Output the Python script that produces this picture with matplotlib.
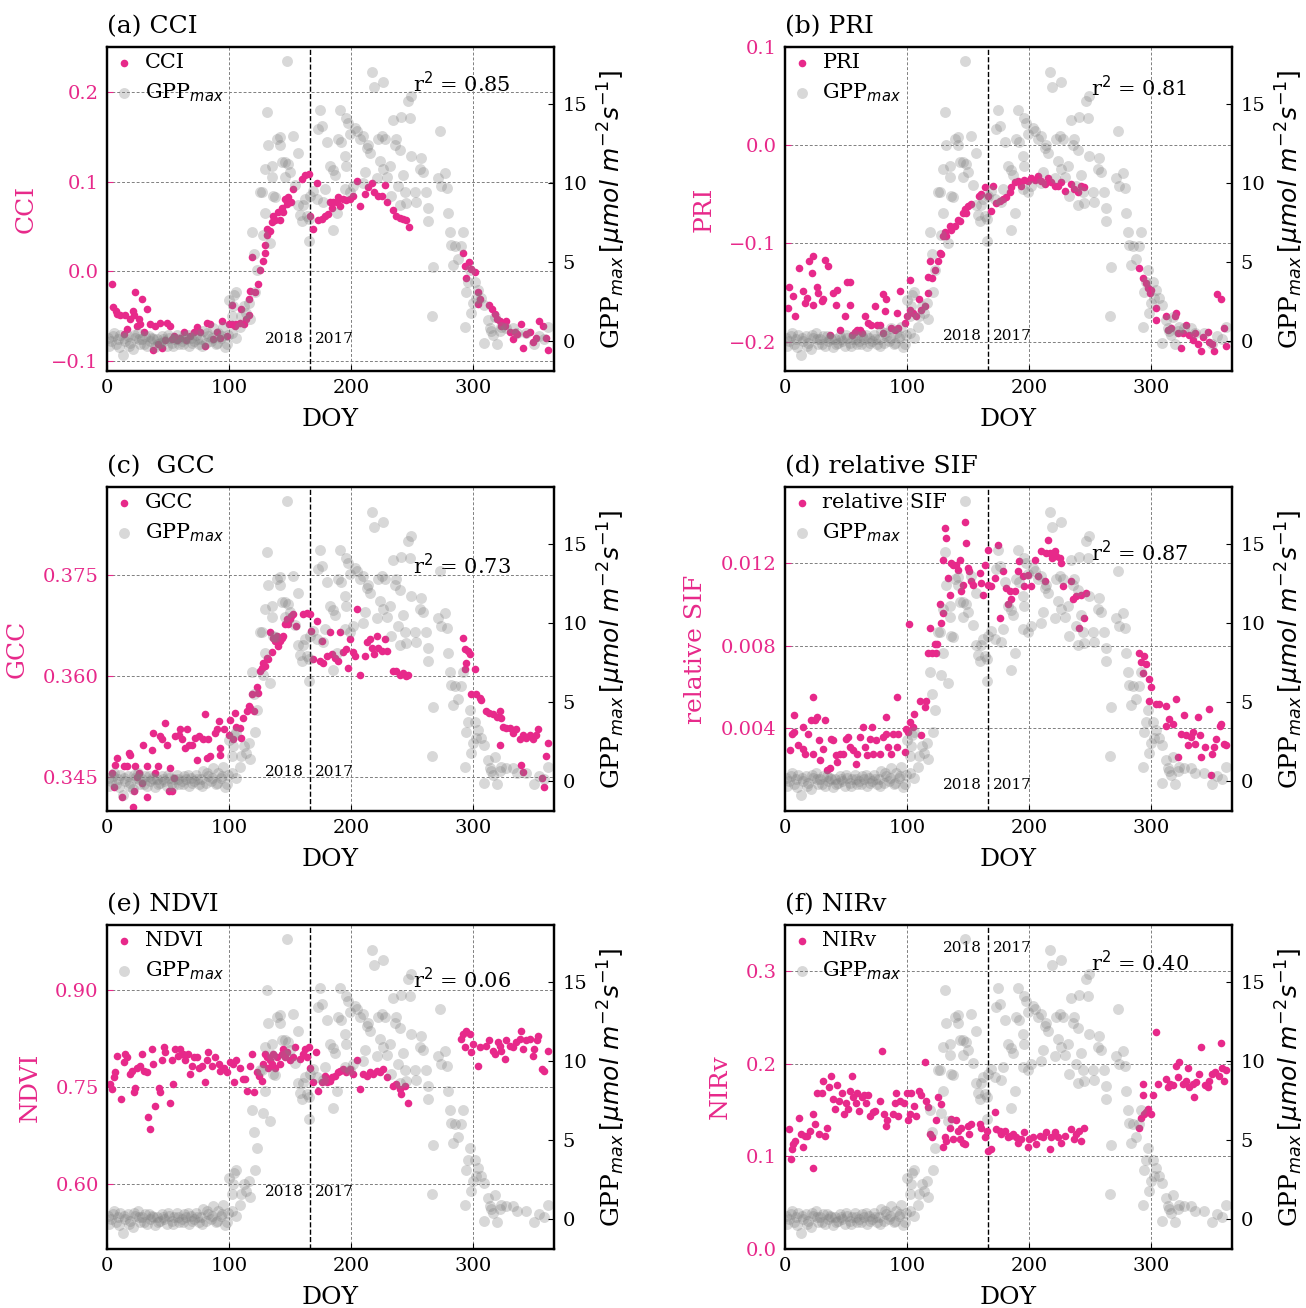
import matplotlib
matplotlib.use("Agg")
import matplotlib.pyplot as plt
import matplotlib.transforms as mtransforms
from matplotlib.ticker import FuncFormatter

plt.rcParams['font.family'] = 'DejaVu Serif'

MAG = '#e7298a'

# GPPmax (same in every panel)
doy_gpp = [1, 2, 3, 5, 6, 7, 9, 10, 11, 13, 14, 15, 17, 18, 19, 21, 22, 23, 25, 26,
           27, 29, 30, 31, 33, 34, 35, 37, 38, 39, 41, 42, 43, 45, 46, 47, 49, 50, 51, 53,
           54, 55, 57, 58, 59, 61, 62, 63, 65, 66, 67, 69, 70, 71, 73, 74, 75, 77, 78, 79,
           81, 82, 83, 85, 86, 87, 89, 90, 91, 93, 94, 95, 97, 98, 99,
           99.5, 102, 102, 103.5, 104, 106, 106, 109, 110, 112, 114, 116, 117, 118.5, 120,
           121, 122.6, 125, 126.7, 127.5, 129, 129.4, 131, 132, 133.5, 135, 135.5, 136, 137.6,
           139, 141.7, 142, 143, 145.8, 147, 146, 148.5, 150, 152.6, 154, 156.7, 156.7, 158,
           159.4, 160.8, 162, 163.5, 165, 165.7, 166, 169, 171.7, 173, 174.4, 175.7, 177, 180,
           178.5, 182.6, 185, 185, 186.6, 188, 189.4, 190.7, 192, 194.8, 194.8, 196, 196, 197.5,
           199, 199, 201.6, 203, 204.4, 207, 209.8, 209.8, 211, 212.5, 214, 215, 216.6, 219,
           221, 222, 223.4, 224.8, 226, 226, 227.5, 229, 231.6, 232.9, 234, 235.7, 237, 238.4,
           239.8, 239.8, 241, 242.5, 244, 245, 246.6, 248, 249.3, 249.3, 252, 253.4, 256, 257.5,
           259, 261.6, 263, 263, 266, 267, 271, 272.5, 273.8, 276.6, 278, 279, 281, 282,
           283.5, 285, 287.5, 290, 291.6, 293, 294, 295.6, 297, 298.4, 299.7, 301, 302.5, 303.8,
           306.5, 309, 309, 312, 313.4, 314.7, 316, 317.4, 319, 321.5, 323, 327, 332.4, 336,
           343, 350, 354, 358, 361]
gpp = [0.2, -0.3, 0.0, 0.3, 0.5, -0.2, 0.1, -0.4, 0.4, -0.9, 0.2, 0.0, 0.3, -0.3, -0.1, -0.5, 0.4, 0.2, 0.5, 0.1,
       -0.2, 0.1, -0.2, 0.3, -0.3, 0.3, 0.0, 0.2, 0.1, -0.4, 0.1, -0.2, -0.1, 0.3, 0.1, 0.0, -0.3, 0.4, 0.2, -0.1,
       -0.3, 0.1, 0.4, 0.1, -0.2, 0.0, -0.2, 0.3, 0.1, 0.4, -0.3, 0.2, -0.1, 0.0, 0.4, 0.1, -0.2, 0.1, -0.3, 0.6,
       -0.1, 0.5, 0.3, 0.0, 0.2, 0.8, -0.2, -0.1, 0.5, 0.2, 0.3, 0.9, -0.4, -0.2, 0.4,
       2.6, 1.6, 0.5, 2.2, 2.9, 3.1, 0.2, 0.9, 1.6, 2.2, 1.8, 2.4, 1.4, 6.9, 5.5,
       3.1, 4.5, 9.4, 9.4, 6.7, 8.1, 10.9, 14.5, 12.4, 6.2, 11.1, 10.4, 9.2, 9.1,
       12.8, 12.9, 12.4, 11.3, 11.3, 17.7, 10.4, 11.2, 10.7, 13.0, 9.9, 11.9, 8.6, 8.0,
       7.6, 8.6, 9.0, 7.9, 7.7, 6.3, 9.2, 9.5, 9.0, 13.4, 14.6, 13.6, 8.8, 12.6,
       9.6, 11.1, 7.0, 10.8, 10.5, 8.1, 12.8, 14.6, 12.6, 11.7, 9.6, 14.1, 11.1, 13.8,
       13.1, 9.4, 9.8, 13.5, 13.3, 12.8, 13.0, 10.0, 10.7, 12.2, 12.4, 11.9, 17.0, 16.1,
       10.3, 12.8, 11.4, 13.0, 16.4, 10.9, 12.8, 10.4, 11.1, 9.2, 14.0, 12.4, 12.8, 9.8,
       12.1, 8.6, 14.2, 10.5, 9.4, 8.7, 15.2, 14.1, 15.5, 11.7, 9.4, 8.8, 10.9, 11.6,
       10.7, 9.4, 8.4, 7.6, 1.6, 4.7, 10.3, 13.3, 9.8, 10.6, 9.7, 8.1, 6.9, 6.1,
       4.8, 6.0, 5.2, 6.0, 6.9, 0.9, 3.1, 3.7, 4.5, 1.8, 2.4, 3.7, 2.7, 3.2,
       2.7, 2.3, -0.1, 1.3, 0.8, 0.6, 0.4, 1.5, -0.2, 0.6, 0.9, 0.8, 0.8, 0.5,
       0.5, -0.2, 0.3, 0.1, 0.9]

# (a) CCI
doy_cci = [4, 5, 7, 8, 11, 13.6, 15, 16.3, 19, 21, 22, 23, 24.5, 26, 27, 28.6, 30, 32.7, 35, 38,
           39.5, 42, 43.6, 45, 47.7, 49, 51.8, 53, 54.5, 57, 60, 62.7, 65, 68, 71, 73.6, 76, 80, 82, 84.5,
           87, 90, 92.6, 94, 98, 99.5, 102, 102, 105, 106, 109, 110, 112, 114, 116, 116, 117, 119, 121, 124,
           125, 128, 129, 129.4, 131, 131, 133.5, 135, 136, 137.6, 140, 141.7, 143, 144, 145.8, 147, 148.5, 151, 152.6, 159.4,
           162, 165, 166, 169, 171.7, 173, 175.7, 178.5, 181, 182.6, 184, 185, 188, 189.4, 190.7, 193.5, 196, 199, 201.6, 204.4,
           207, 211, 214, 216.6, 219, 222, 224.8, 227.5, 229, 234, 237, 240, 242.5, 245, 247.4,
           291.6, 293, 296, 294, 298.4, 301, 304, 305.6, 304, 313, 315, 317.4, 319, 321.5, 323, 326, 327, 330, 332.4, 334,
           336, 339, 340.6, 343, 346, 349, 351.5, 354, 357, 359.5, 361]
cci = [-0.014, -0.040, -0.044, -0.048, -0.049, -0.070, -0.049, -0.064, -0.053, -0.044, -0.049, -0.023, -0.061, -0.053, -0.059, -0.031, -0.068, -0.042, -0.059, -0.088,
       -0.061, -0.081, -0.057, -0.085, -0.077, -0.057, -0.061, -0.075, -0.072, -0.077, -0.074, -0.068, -0.077, -0.072, -0.068, -0.062, -0.068, -0.083, -0.057, -0.059,
       -0.075, -0.068, -0.074, -0.055, -0.072, -0.059, -0.038, -0.059, -0.061, -0.059, -0.057, -0.042, -0.059, -0.053, -0.049, -0.031, -0.022, 0.016, -0.023, -0.014,
       0.001, 0.012, 0.021, 0.029, 0.040, 0.047, 0.045, 0.055, 0.062, 0.057, 0.066, 0.057, 0.071, 0.066, 0.081, 0.075, 0.083, 0.077, 0.092, 0.103,
       0.107, 0.109, 0.062, 0.047, 0.099, 0.057, 0.058, 0.062, 0.064, 0.077, 0.071, 0.077, 0.077, 0.083, 0.073, 0.081, 0.079, 0.081, 0.084, 0.101,
       0.073, 0.086, 0.094, 0.099, 0.088, 0.084, 0.084, 0.096, 0.077, 0.068, 0.062, 0.060, 0.058, 0.057, 0.049,
       0.021, 0.006, 0.010, -0.007, 0.003, -0.001, -0.023, -0.031, -0.036, -0.038, -0.042, -0.048, -0.053, -0.055, -0.061, -0.061, -0.055, -0.068, -0.075, -0.068,
       -0.070, -0.059, -0.085, -0.070, -0.068, -0.079, -0.074, -0.055, -0.061, -0.074, -0.088]

# (b) PRI
doy_pri = [3.5, 2.7, 6.8, 8, 11.7, 14.4, 16.3, 17.7, 19.9, 21.8, 23, 22.6, 25.9, 27.2, 30, 31.3, 32.7, 35.4, 36.8, 39,
           41.7, 42.8, 45, 49, 50.4, 53, 53, 54.5, 57.2, 58.6, 61.3, 62.7, 65.4, 68, 70.8, 73.6, 75, 77.7, 80.4, 83,
           81.7, 80.4, 87, 90, 91.3, 92.6, 94, 98, 99.5, 102, 102, 105, 107.6, 110, 111.7, 114.4, 117, 117, 120, 118.5,
           122.6, 125.3, 126.7, 128, 129.4, 131, 132, 134.9, 136, 139, 141.7, 143, 145.8, 147, 148.5, 150, 152.6, 159, 160.8, 163.5,
           166, 169, 170, 173, 175.7, 178.5, 181, 184, 185, 188, 190.7, 193.5, 196, 199, 201.6, 204.4, 207, 210, 212.5, 215,
           218, 220.7, 223.4, 226, 228.9, 234.3, 237, 239.8, 242.5, 245,
           290, 293, 295.6, 297, 298.8, 300, 304, 304, 312, 313.5, 316, 319, 320, 321.5, 324, 326, 328.5, 331, 334, 336,
           338, 340.6, 342, 346, 347.4, 350, 351.5, 354, 357, 359.7, 361]
pri = [-0.144, -0.166, -0.154, -0.174, -0.125, -0.149, -0.161, -0.156, -0.118, -0.130, -0.113, -0.163, -0.144, -0.151, -0.159, -0.157, -0.117, -0.123, -0.193, -0.151,
       -0.163, -0.147, -0.188, -0.174, -0.139, -0.139, -0.163, -0.193, -0.190, -0.188, -0.188, -0.191, -0.174, -0.181, -0.183, -0.164, -0.183, -0.183, -0.152, -0.157,
       -0.169, -0.191, -0.186, -0.188, -0.171, -0.186, -0.149, -0.181, -0.174, -0.137, -0.168, -0.171, -0.174, -0.157, -0.168, -0.164, -0.151, -0.134, -0.135, -0.118,
       -0.127, -0.118, -0.110, -0.111, -0.093, -0.088, -0.093, -0.082, -0.086, -0.082, -0.076, -0.077, -0.069, -0.065, -0.069, -0.062, -0.060, -0.052, -0.050, -0.043,
       -0.052, -0.067, -0.042, -0.059, -0.057, -0.055, -0.053, -0.048, -0.043, -0.038, -0.036, -0.042, -0.035, -0.036, -0.033, -0.035, -0.031, -0.036, -0.040, -0.033,
       -0.038, -0.042, -0.042, -0.038, -0.047, -0.040, -0.045, -0.048, -0.042, -0.043,
       -0.125, -0.135, -0.140, -0.145, -0.151, -0.147, -0.166, -0.178, -0.174, -0.188, -0.186, -0.174, -0.171, -0.191, -0.207, -0.191, -0.183, -0.193, -0.198, -0.191,
       -0.202, -0.210, -0.195, -0.190, -0.200, -0.203, -0.210, -0.152, -0.157, -0.186, -0.205]

# (c) GCC
doy_gcc = [4, 5.7, 6.8, 8, 12, 13.6, 16.3, 17.7, 19, 21, 22, 23, 24.5, 26, 28.6, 29.4, 32.7, 32.7, 36.8, 38,
           39.5, 42, 43.6, 45, 47.7, 49, 50.4, 51.8, 53, 54.5, 56, 58.6, 60, 61.3, 64, 65.4, 67, 69.5, 72, 73.6,
           75, 79, 80.4, 81.7, 83, 84.5, 88.5, 90, 91.3, 92.6, 92.6, 95.4, 99.5, 100.8, 103.5, 105, 106, 109, 110, 111.7,
           114.4, 116, 117, 118.5, 120, 122.6, 124, 125.3, 126.7, 128, 129.4, 131, 132, 133.5, 135, 136, 137.6, 139, 140, 141.7,
           143, 144.4, 146, 147, 148.5, 150, 151, 152.6, 155, 160.8, 163.5, 166, 166.8, 169, 171.7, 174.4, 175.7, 177, 180, 182.6,
           184, 186.6, 189.4, 190.7, 193.5, 196, 197.5, 199, 201.6, 203, 204.4, 207, 211, 212.5, 215, 216.6, 219, 220.7, 222, 224.8,
           227.5, 229, 234.3, 237, 240, 242.5, 245, 246.6,
           291.6, 293, 294.3, 295.6, 297, 293, 301, 298.4, 302.5, 305, 306.5, 310.6, 313, 316, 319, 321.5, 323, 324, 327, 330,
           332.4, 335, 338, 340.6, 343, 346, 348.7, 351.5, 352.9, 321.5, 339, 340.6, 356, 357.5, 359.7, 361]
gcc = [0.3456, 0.3436, 0.3468, 0.3478, 0.3421, 0.3466, 0.3466, 0.3486, 0.3483, 0.3406, 0.3429, 0.3466, 0.3451, 0.3456, 0.3441, 0.3498, 0.3421, 0.3466, 0.3491, 0.3516,
       0.3456, 0.3466, 0.3511, 0.3506, 0.3531, 0.3498, 0.3429, 0.3463, 0.3429, 0.3449, 0.3511, 0.3513, 0.3521, 0.3506, 0.3493, 0.3521, 0.3498, 0.3498, 0.3508, 0.3476,
       0.3511, 0.3506, 0.3543, 0.3478, 0.3506, 0.3481, 0.3516, 0.3521, 0.3533, 0.3493, 0.3483, 0.3521, 0.3513, 0.3535, 0.3506, 0.3545, 0.3525, 0.3523, 0.3508, 0.3538,
       0.3548, 0.3555, 0.3553, 0.3573, 0.3548, 0.3583, 0.3575, 0.3607, 0.3612, 0.3620, 0.3615, 0.3627, 0.3625, 0.3665, 0.3635, 0.3657, 0.3652, 0.3660, 0.3645, 0.3652,
       0.3657, 0.3660, 0.3677, 0.3684, 0.3677, 0.3684, 0.3689, 0.3692, 0.3674, 0.3692, 0.3694, 0.3692, 0.3667, 0.3625, 0.3682, 0.3622, 0.3652, 0.3620, 0.3630, 0.3665,
       0.3632, 0.3627, 0.3622, 0.3665, 0.3635, 0.3640, 0.3612, 0.3655, 0.3635, 0.3630, 0.3699, 0.3602, 0.3630, 0.3650, 0.3655, 0.3642, 0.3632, 0.3660, 0.3642, 0.3637,
       0.3655, 0.3637, 0.3607, 0.3607, 0.3602, 0.3605, 0.3600, 0.3602,
       0.3657, 0.3640, 0.3620, 0.3637, 0.3632, 0.3610, 0.3610, 0.3573, 0.3573, 0.3568, 0.3565, 0.3548, 0.3545, 0.3543, 0.3540, 0.3548, 0.3538, 0.3525, 0.3523, 0.3523,
       0.3516, 0.3521, 0.3506, 0.3513, 0.3508, 0.3513, 0.3506, 0.3513, 0.3521, 0.3498, 0.3468, 0.3458, 0.3449, 0.3436, 0.3481, 0.3501]

# (d) relative SIF
doy_sif = [4, 5.4, 7, 7.4, 11, 14.4, 15, 16.3, 19, 21, 23, 22.6, 24.5, 26.4, 28, 29, 30.8, 32.7, 34, 36.8,
           37.3, 39.5, 41.7, 42.8, 45, 47.7, 49.9, 51.8, 53, 55.9, 58, 59.2, 61.3, 63.5, 65.4, 67.3, 69.5, 71, 72.2, 74.4,
           77.7, 80.4, 83, 83, 84.5, 87, 88.6, 91.3, 91.3, 92.6, 98, 99, 101, 101.6, 102.7, 105, 106, 110.4, 111.7, 114.4,
           115.8, 117, 118.5, 120, 122.6, 124, 124.6, 126.7, 128, 129.4, 129.4, 131, 132, 133.5, 135, 136, 137.6, 140, 141.7, 143,
           144.4, 146, 147, 148.5, 150, 151, 152.6, 154, 159.4, 160.8, 162, 163.5, 166, 166, 169, 171.7, 174.4, 175.7, 178.5, 181,
           184, 182.6, 185, 188, 190.7, 192, 195, 196, 199, 201.6, 204.4, 207, 210, 212.5, 214, 215.3, 216.6, 219, 220.7, 222,
           224.8, 226, 227.5, 234.3, 235.7, 238.4, 241, 242.5, 245, 246.6,
           290, 291.6, 293, 294.3, 295.6, 298.4, 299.7, 298.4, 304, 306.5, 312, 312, 314.6, 317.4, 320, 321.5, 324, 327, 328.5, 330,
           332.4, 334, 336, 338, 339.6, 341, 343.6, 347.4, 349, 350, 351.5, 353, 356, 357, 359.7, 361]
sif = [0.00294, 0.00374, 0.00463, 0.00382, 0.00318, 0.00406, 0.00302, 0.00278, 0.00374, 0.00439, 0.00551, 0.00278, 0.00439, 0.00455, 0.00342, 0.00246, 0.00302, 0.00439, 0.00198, 0.00206,
       0.00350, 0.00342, 0.00270, 0.00238, 0.00278, 0.00278, 0.00350, 0.00358, 0.00310, 0.00294, 0.00230, 0.00278, 0.00358, 0.00406, 0.00310, 0.00270, 0.00350, 0.00406, 0.00278, 0.00342,
       0.00278, 0.00358, 0.00455, 0.00374, 0.00310, 0.00278, 0.00374, 0.00310, 0.00551, 0.00374, 0.00286, 0.00398, 0.00382, 0.00904, 0.00431, 0.00406, 0.00471, 0.00535, 0.00366, 0.00503,
       0.00535, 0.00768, 0.00888, 0.00768, 0.00808, 0.00768, 0.00808, 0.01001, 0.00912, 0.00961, 0.01218, 0.01370, 0.01322, 0.01129, 0.01049, 0.01202, 0.01194, 0.01194, 0.01169, 0.01218,
       0.01065, 0.01097, 0.01402, 0.01298, 0.01177, 0.01161, 0.01113, 0.01097, 0.01153, 0.01105, 0.01049, 0.01194, 0.01266, 0.01097, 0.01089, 0.01129, 0.01290, 0.00937, 0.01161, 0.01081,
       0.01065, 0.01001, 0.01025, 0.01065, 0.01161, 0.01210, 0.01137, 0.01089, 0.01145, 0.01089, 0.01218, 0.01137, 0.01258, 0.01113, 0.01250, 0.01314, 0.01250, 0.01226, 0.01258, 0.01234,
       0.01226, 0.01202, 0.01089, 0.01113, 0.01025, 0.01041, 0.00888, 0.01049, 0.00937, 0.01057,
       0.00768, 0.00720, 0.00671, 0.00752, 0.00712, 0.00639, 0.00599, 0.00535, 0.00519, 0.00519, 0.00511, 0.00414, 0.00447, 0.00422, 0.00543, 0.00262, 0.00374, 0.00463, 0.00366, 0.00318,
       0.00358, 0.00382, 0.00326, 0.00455, 0.00366, 0.00262, 0.00310, 0.00495, 0.00174, 0.00278, 0.00310, 0.00350, 0.00414, 0.00422, 0.00326, 0.00318]

# (e) NDVI
doy_ndvi = [2.7, 4, 6, 6.8, 8, 11.4, 13.6, 15, 16.3, 18.5, 20.4, 21.8, 23, 24.5, 26.7, 28.6, 30, 32.7, 33.2, 34.9,
            36.8, 38, 39.5, 42.2, 43, 45, 46.3, 47.7, 51.2, 53, 54, 55.9, 57.8, 60, 62, 64, 66, 67.6, 69.5, 71.4,
            73.6, 75, 77.7, 80.4, 81.7, 83, 85.8, 88.5, 91.3, 92.6, 95.4, 98, 100.8, 103, 104, 106, 109, 111, 113, 114.4,
            117, 118.5, 120, 122.6, 124.8, 126.7, 128, 129.4, 131, 132, 133.5, 135, 136, 137.6, 139, 141.7, 143, 144.4, 146, 147,
            150, 152.6, 154, 158, 160.8, 162, 163.5, 165, 166, 169, 171, 173, 175.7, 178.5, 180, 182.6, 184, 186.6, 189.4, 190.7,
            193.5, 196, 199, 201.6, 204.4, 207, 209.8, 212.5, 215, 218, 220.7, 223.4, 226, 229, 234.3, 237, 240, 241, 244, 246.6,
            290, 291.6, 294.3, 293, 297, 298.4, 299.7, 304, 305, 310.6, 313, 316, 317.4, 320, 321.5, 323, 326, 327, 330, 332.4,
            335, 338, 339, 340.6, 343, 346, 349, 350, 352, 353, 356, 357.5, 361]
ndvi = [0.755, 0.747, 0.765, 0.773, 0.798, 0.731, 0.788, 0.801, 0.796, 0.770, 0.775, 0.742, 0.749, 0.780, 0.783, 0.801, 0.775, 0.773, 0.703, 0.685,
        0.809, 0.786, 0.721, 0.749, 0.742, 0.791, 0.811, 0.804, 0.726, 0.791, 0.755, 0.809, 0.798, 0.809, 0.801, 0.791, 0.801, 0.770, 0.783, 0.796,
        0.796, 0.780, 0.783, 0.757, 0.791, 0.804, 0.783, 0.796, 0.786, 0.775, 0.780, 0.773, 0.788, 0.786, 0.757, 0.791, 0.780, 0.762, 0.762, 0.744,
        0.783, 0.801, 0.742, 0.773, 0.767, 0.760, 0.786, 0.801, 0.796, 0.780, 0.791, 0.786, 0.801, 0.780, 0.796, 0.786, 0.801, 0.809, 0.796, 0.804,
        0.791, 0.796, 0.811, 0.793, 0.801, 0.809, 0.796, 0.811, 0.780, 0.757, 0.804, 0.744, 0.757, 0.767, 0.757, 0.760, 0.765, 0.767, 0.773, 0.775,
        0.778, 0.773, 0.778, 0.770, 0.791, 0.747, 0.770, 0.767, 0.773, 0.770, 0.775, 0.773, 0.778, 0.765, 0.752, 0.755, 0.747, 0.739, 0.752, 0.726,
        0.824, 0.832, 0.837, 0.811, 0.832, 0.804, 0.817, 0.783, 0.811, 0.814, 0.822, 0.806, 0.801, 0.819, 0.814, 0.806, 0.793, 0.822, 0.814, 0.811,
        0.819, 0.824, 0.837, 0.809, 0.822, 0.824, 0.798, 0.809, 0.822, 0.829, 0.778, 0.775, 0.806]

# (f) NIRv
doy_nirv = [3.5, 4.6, 5.4, 6.8, 8, 11.7, 12.8, 15, 16.3, 18.3, 20.4, 22.6, 23, 24.5, 26.4, 28, 30, 31.3, 32.7, 34.6,
            36, 37.3, 39, 41, 42.8, 44.4, 46.3, 48.2, 49.9, 51.8, 53, 54.5, 55.9, 58, 59, 60.8, 62.7, 64.6, 66.2, 68,
            70, 72.2, 73.6, 77.7, 79.8, 81, 82.6, 83.7, 88.6, 90, 90.7, 92.6, 94.5, 97.3, 99.5, 100.8, 102.2, 103.5, 105.4, 107.6,
            109.8, 111.7, 114.4, 115.8, 117, 118.5, 120, 124, 125.3, 128, 129.4, 131, 132, 135, 136, 137.6, 140, 141.7, 143, 144.4,
            146, 147, 150, 151, 152.6, 159.4, 160.8, 163.5, 165, 166, 169, 171.7, 173, 175.7, 177, 180, 182.6, 184, 186.6, 189.4,
            190.7, 193.5, 196, 199, 200, 203, 205.7, 208.4, 211, 214, 216.6, 218, 220.7, 223.4, 226, 229, 234.3, 237, 238.4, 241,
            242.5, 245,
            290, 291.6, 293, 293, 294.3, 295.6, 297, 300, 301, 304, 305, 312, 313.5, 315, 317.6, 320, 321.5, 323, 325.6, 328.5,
            330, 331, 334, 335, 336.5, 339, 340.6, 343.6, 346, 347.4, 350, 352, 355, 357, 358, 359.7, 361]
nirv = [0.130, 0.097, 0.108, 0.113, 0.117, 0.142, 0.124, 0.110, 0.122, 0.122, 0.128, 0.146, 0.088, 0.135, 0.168, 0.124, 0.169, 0.182, 0.122, 0.131,
        0.175, 0.187, 0.162, 0.151, 0.177, 0.160, 0.169, 0.146, 0.158, 0.151, 0.171, 0.187, 0.164, 0.158, 0.168, 0.149, 0.164, 0.166, 0.158, 0.166,
        0.144, 0.148, 0.149, 0.160, 0.214, 0.146, 0.133, 0.139, 0.146, 0.158, 0.169, 0.144, 0.160, 0.158, 0.168, 0.139, 0.146, 0.168, 0.155, 0.144,
        0.171, 0.166, 0.202, 0.160, 0.153, 0.124, 0.121, 0.139, 0.164, 0.157, 0.110, 0.121, 0.117, 0.131, 0.140, 0.119, 0.139, 0.128, 0.119, 0.131,
        0.115, 0.113, 0.133, 0.124, 0.135, 0.135, 0.131, 0.121, 0.128, 0.106, 0.108, 0.148, 0.130, 0.128, 0.124, 0.128, 0.121, 0.122, 0.124, 0.121,
        0.115, 0.119, 0.126, 0.110, 0.119, 0.121, 0.113, 0.122, 0.121, 0.126, 0.108, 0.121, 0.126, 0.121, 0.115, 0.122, 0.130, 0.119, 0.124, 0.128,
        0.117, 0.131,
        0.131, 0.142, 0.166, 0.178, 0.146, 0.148, 0.151, 0.146, 0.166, 0.234, 0.178, 0.184, 0.175, 0.178, 0.177, 0.198, 0.186, 0.202, 0.178, 0.182,
        0.195, 0.175, 0.178, 0.164, 0.180, 0.189, 0.218, 0.177, 0.175, 0.182, 0.189, 0.191, 0.187, 0.222, 0.195, 0.182, 0.193]

titles = ['(a) CCI', '(b) PRI', '(c)  GCC', '(d) relative SIF', '(e) NDVI', '(f) NIRv']
names = ['CCI', 'PRI', 'GCC', 'relative SIF', 'NDVI', 'NIRv']
r2_text = ['0.85', '0.81', '0.73', '0.87', '0.06', '0.40']
xs = [doy_cci, doy_pri, doy_gcc, doy_sif, doy_ndvi, doy_nirv]
ys = [cci, pri, gcc, sif, ndvi, nirv]
ylims = [(-0.111, 0.25), (-0.23, 0.1), (0.340, 0.388), (0.0, 0.0157), (0.5, 1.0), (0.0, 0.35)]
yticks = [[-0.1, 0.0, 0.1, 0.2], [-0.2, -0.1, 0.0, 0.1], [0.345, 0.360, 0.375],
          [0.004, 0.008, 0.012], [0.60, 0.75, 0.90], [0.0, 0.1, 0.2, 0.3]]
fmts = ['%.1f', '%.1f', '%.3f', '%.3f', '%.2f', '%.1f']
r2_y = [0.886, 0.874, 0.758, 0.796, 0.83, 0.885]
year_y = [0.099, 0.108, 0.12, 0.08, 0.176, 0.93]

W, H = 1306, 1308
fig = plt.figure(figsize=(W / 100, H / 100), dpi=100)
lefts = [107, 785]
tops = [47, 487, 925]
aw, ah = 447, 324

for i in range(6):
    r, c = divmod(i, 2)
    ax = fig.add_axes([lefts[c] / W, 1 - (tops[r] + ah) / H, aw / W, ah / H])
    ax.scatter(xs[i], ys[i], s=30, color=MAG, label=names[i], zorder=3, linewidths=0)
    ax.set_xlim(0, 366)
    ax.set_ylim(*ylims[i])
    ax.set_xticks([0, 100, 200, 300])
    ax.set_yticks(yticks[i])
    ax.yaxis.set_major_formatter(FuncFormatter(lambda v, p, f=fmts[i]: (f % v).replace('-', '\u2212')))
    ax.grid(True, ls=(0, (3, 2)), lw=0.7, color='grey')
    ax.set_axisbelow(True)
    ax.axvline(166, color='k', ls='--', lw=1, zorder=2)
    ax.tick_params(axis='both', direction='in', length=4, labelsize=14, pad=6)
    ax.tick_params(axis='y', colors=MAG)
    ax.set_xlabel('DOY', fontsize=18, labelpad=8)
    ax.set_ylabel(names[i], fontsize=18, color=MAG, labelpad=10)
    ax.set_title(titles[i], loc='left', fontsize=18, pad=10)
    for sp in ax.spines.values():
        sp.set_linewidth(1.6)

    trans = mtransforms.blended_transform_factory(ax.transData, ax.transAxes)
    ax.text(161, year_y[i], '2018', transform=trans, ha='right', va='center', fontsize=11)
    ax.text(170, year_y[i], '2017', transform=trans, ha='left', va='center', fontsize=11)
    ax.text(0.685, r2_y[i], 'r$^2$ = ' + r2_text[i], transform=ax.transAxes,
            ha='left', va='center', fontsize=15)

    ax2 = ax.twinx()
    ax2.scatter(doy_gpp, gpp, s=62, color='grey', alpha=0.3, label='GPP$_{max}$', linewidths=0)
    ax2.set_ylim(-1.9, 18.6)
    ax2.set_yticks([0, 5, 10, 15])
    ax2.tick_params(axis='y', direction='in', length=4, labelsize=14, pad=6)
    ax2.set_ylabel(r'GPP$_{max}\,[\mu mol\ m^{-2} s^{-1}]$', fontsize=18, labelpad=6)
    for sp in ax2.spines.values():
        sp.set_linewidth(1.6)

    h1, l1 = ax.get_legend_handles_labels()
    h2, l2 = ax2.get_legend_handles_labels()
    ax2.legend(h1 + h2, l1 + l2, loc='upper left', frameon=False, fontsize=15,
               borderaxespad=0.1, borderpad=0.2, handlelength=1.0,
               handletextpad=0.5, labelspacing=0.45)

fig.savefig('out.png', dpi=100)
